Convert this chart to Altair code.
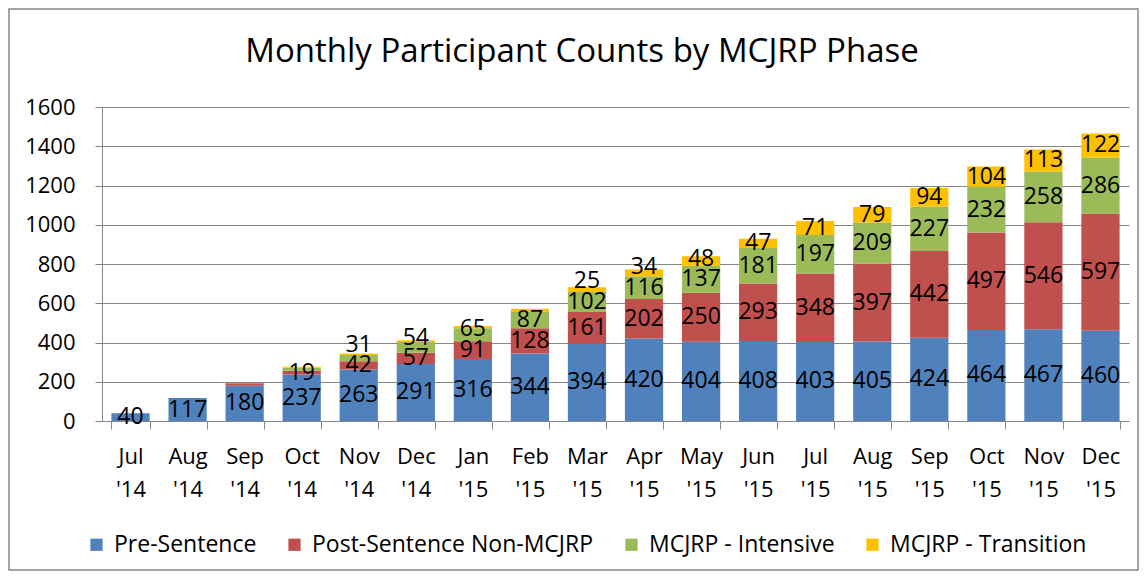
import altair as alt
import pandas as pd

months = ["Jul '14", "Aug '14", "Sep '14", "Oct '14", "Nov '14", "Dec '14",
          "Jan '15", "Feb '15", "Mar '15", "Apr '15", "May '15", "Jun '15",
          "Jul '15", "Aug '15", "Sep '15", "Oct '15", "Nov '15", "Dec '15"]
series = ["Pre-Sentence", "Post-Sentence Non-MCJRP", "MCJRP - Intensive", "MCJRP - Transition"]
colors = ["#4F81BD", "#C0504D", "#9BBB59", "#FFC000"]
pre = [40, 117, 180, 237, 263, 291, 316, 344, 394, 420, 404, 408, 403, 405, 424, 464, 467, 460]
post = [0, 0, 12, 19, 42, 57, 91, 128, 161, 202, 250, 293, 348, 397, 442, 497, 546, 597]
intensive = [0, 0, 0, 15, 31, 54, 65, 87, 102, 116, 137, 181, 197, 209, 227, 232, 258, 286]
transition = [0, 0, 0, 5, 8, 9, 12, 13, 25, 34, 48, 47, 71, 79, 94, 104, 113, 122]
y_ticks = [0, 200, 400, 600, 800, 1000, 1200, 1400, 1600]
title_text = "Monthly Participant Counts by MCJRP Phase"

values = [pre, post, intensive, transition]
rows = []
label_rows = []
MIN_LABEL = 18
GAP = 105
for i, m in enumerate(months):
    base = 0
    prev = None
    for k, s in enumerate(series):
        v = values[k][i]
        rows.append({"month": m, "series": s, "k": k, "value": v})
        if v >= MIN_LABEL:
            c = base + v / 2
            if prev is not None:
                c = max(c, prev + GAP)
            prev = c
            label_rows.append({"month": m, "series": s, "value": v, "pos": c})
        base += v

df = pd.DataFrame(rows)
ldf = pd.DataFrame(label_rows)

FONT = "Open Sans"
GRAY = "#868686"

x_axis = alt.Axis(labelExpr="split(datum.label, ' ')", labelAngle=0,
                  labelFontSize=22, labelFont=FONT, labelColor="black",
                  labelLineHeight=33, labelPadding=17, tickBand="extent",
                  tickSize=8, tickColor=GRAY, domainColor=GRAY,
                  labelBaseline="top")
x_scale = alt.Scale(paddingInner=0.33, paddingOuter=0.165)
y_axis = alt.Axis(values=y_ticks, format="d", labelOverlap=False,
                  labelFontSize=22, labelFont=FONT,
                  labelColor="black", tickSize=7, tickColor=GRAY,
                  domainColor=GRAY, gridColor=GRAY, labelPadding=20)
y_scale = alt.Scale(domain=[0, 1600], nice=False)

bars = alt.Chart(df).mark_bar().encode(
    x=alt.X("month:N", sort=months, title=None, scale=x_scale, axis=x_axis),
    y=alt.Y("value:Q", stack="zero", scale=y_scale, title=None, axis=y_axis),
    color=alt.Color("series:N", sort=series,
                    scale=alt.Scale(domain=series, range=colors),
                    legend=alt.Legend(title=None, orient="none", direction="horizontal",
                                      legendX=-17, legendY=426, symbolType="square",
                                      symbolSize=150, symbolStrokeWidth=0,
                                      labelFontSize=23, labelFont=FONT, labelLimit=0,
                                      labelColor="black", columnPadding=26,
                                      labelOffset=6)),
    order=alt.Order("k:Q", sort="ascending"),
)

labels = alt.Chart(ldf).mark_text(fontSize=23, font=FONT, color="black",
                                  baseline="middle").encode(
    x=alt.X("month:N", sort=months, title=None, scale=x_scale, axis=x_axis),
    y=alt.Y("pos:Q", scale=y_scale, title=None, axis=y_axis),
    text=alt.Text("value:Q"),
)

one = pd.DataFrame({"t": [title_text]})
title = alt.Chart(one).mark_text(fontSize=33, font=FONT, color="black",
                                 align="center", baseline="middle").encode(
    x=alt.value(480), y=alt.value(-55), text="t:N")

frame = alt.Chart(one).mark_rect(
    fill=None, stroke=GRAY, strokeWidth=1.5
).encode(x=alt.value(-93), x2=alt.value(1036), y=alt.value(-98), y2=alt.value(463))

chart = alt.layer(bars, labels, title, frame).properties(
    width=1027, height=314, padding=0,
).configure_view(stroke=None)

chart.save("out.html", embed_options={"renderer": "svg", "actions": False})
